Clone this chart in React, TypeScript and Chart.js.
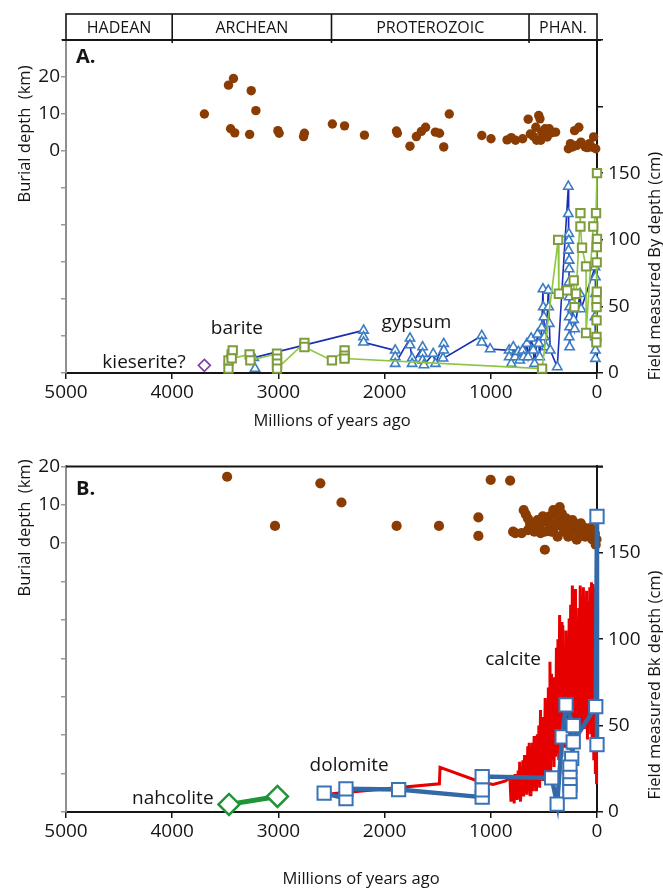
import React, { useEffect, useRef } from "react";
import { Chart, registerables } from "chart.js";
Chart.register(...registerables);

const FONT = "'Open Sans', 'DejaVu Sans', sans-serif";
const INK = "#151515";

// ---------- eon banner ----------
const eonNames = ["HADEAN", "ARCHEAN", "PROTEROZOIC", "PHAN."];
const eonStart = [5000, 4000, 2500, 640];
const eonEnd = [4000, 2500, 640, 0];

// ---------- axes ----------
const xMin = 0;
const xMax = 5000;
const xStep = 1000;
const burialMinA = -60;
const burialMaxA = 30;
const fieldMaxA = 250;
const burialMinB = -70;
const burialMaxB = 20;
const fieldMaxB = 200;
const burialLabelled = [0, 10, 20];
const fieldLabelMax = 150;

// ---------- panel A data (Ma, km / cm) ----------
const burialAAge = [3697, 3470, 3423, 3256, 3212, 3450, 3411, 3271, 3005, 2993, 2755, 2763, 2492, 2377, 2190, 1888, 1880, 1761, 1701, 1654, 1614, 1522, 1483, 1443, 1391, 1085, 998, 847, 807, 767, 700, 648, 628, 576, 549, 537, 568, 529, 509, 489, 449, 469, 390, 270, 250, 211, 171, 151, 111, 72, 32, 12, 52, 231, 600, 520, 480, 430, 190, 90];
const burialAKm = [10.0, 17.8, 19.6, 16.3, 10.9, 6.0, 4.9, 4.5, 5.5, 4.8, 4.8, 3.9, 7.3, 6.8, 4.3, 5.4, 4.8, 1.3, 3.9, 5.3, 6.4, 5.1, 4.8, 1.1, 10.0, 4.2, 3.3, 3.0, 3.6, 2.9, 3.3, 8.6, 4.6, 6.4, 9.6, 8.7, 2.9, 2.9, 4.6, 6.0, 6.0, 3.8, 5.1, 0.6, 2.0, 5.5, 6.4, 2.4, 1.1, 2.0, 3.8, 0.6, 1.1, 1.1, 4.0, 5.0, 4.6, 4.9, 1.5, 0.9];

const gypsumAge = [3220, 3232, 2198, 2198, 2198, 1900, 1900, 1900, 1761, 1761, 1741, 1741, 1642, 1642, 1642, 1630, 1542, 1522, 1443, 1443, 1450, 1085, 1085, 1006, 827, 827, 807, 788, 770, 740, 727, 700, 690, 660, 648, 620, 600, 588, 560, 548, 540, 520, 509, 506, 500, 495, 480, 459, 455, 449, 440, 374, 270, 270, 265, 265, 268, 262, 262, 265, 262, 258, 262, 258, 262, 258, 230, 220, 210, 160, 150, 19, 15, 15, 19, 15, 15, 15];
const gypsumCm = [3.3, 11.5, 32, 27, 23, 17, 12, 7, 26, 21, 11, 7, 19.5, 14.5, 9.5, 6, 14.5, 7, 22, 17, 11, 28, 23, 18, 17, 12, 7, 19.5, 12, 16, 9.5, 17, 12, 22, 12, 26, 17, 7, 29, 22, 12, 34, 63, 49.5, 42, 27, 19.5, 62, 49.5, 37, 17, 4.5, 140, 119.5, 104.5, 99.5, 92, 84.5, 78, 68, 57, 49.5, 42, 34.5, 27, 19.5, 48, 40, 33, 59.5, 48, 79.5, 72, 59.5, 42, 27, 17, 10.75];

const bariteAge = [3470, 3470, 3440, 3430, 3440, 3271, 3264, 3013, 3013, 3013, 3013, 2755, 2755, 2496, 2377, 2377, 2377, 517, 366, 359, 281, 219, 212, 197, 156, 156, 141, 103, 103, 35, 9, 0, 0, 2, 3, 2, 4, 4, 4, 5, 6];
const bariteCm = [3.3, 9.5, 14, 17, 11, 14, 9.5, 14.5, 10.8, 7, 3.3, 22.5, 19.5, 9.5, 17, 13, 10.8, 3.3, 100, 59.5, 62, 69.5, 49.5, 59.5, 120, 110, 94, 80, 30, 110, 120, 150, 100.7, 94.5, 83, 61, 54.5, 49.5, 39.5, 27, 23];

const kieseriteAge = [3697];
const kieseriteCm = [5.75];

// ---------- panel B data ----------
const burialBAge = [3483, 3032, 2605, 2406, 1887, 1488, 1117, 1117, 1001, 818, 790, 770, 710, 690, 670, 650, 650, 630, 610, 590, 571, 560, 545, 531, 531, 510, 491, 491, 470, 451, 451, 430, 411, 411, 390, 371, 371, 351, 340, 331, 331, 310, 291, 291, 271, 260, 245, 231, 211, 200, 191, 175, 152, 140, 130, 112, 112, 95, 72, 60, 45, 32, 20, 12, 5];
const burialBKm = [17.3, 4.5, 15.6, 10.6, 4.5, 4.5, 6.7, 1.9, 16.5, 16.3, 3.0, 2.6, 2.6, 8.6, 7.5, 6.4, 3.4, 5.0, 4.3, 3.0, 3.4, 6.0, 5.0, 2.6, 5.2, 7.0, -1.7, 3.0, 5.5, 6.9, 5.2, 3.0, 8.6, 3.0, 5.0, 6.9, 1.7, 9.4, 4.5, 7.7, 5.2, 3.0, 3.9, 6.5, 1.7, 5.0, 3.0, 6.0, 3.4, 5.0, 0.9, 3.0, 5.2, 2.0, 4.0, 3.9, 1.7, 2.5, 2.1, 4.0, 1.0, 0.9, 2.5, -0.4, 1.0];

const calciteAge = [2496, 1484, 1478, 1104, 978, 860, 820, 810, 800, 795, 788, 780, 772, 765, 758, 750, 742, 735, 728, 720, 712, 705, 698, 690, 682, 675, 668, 660, 652, 645, 638, 630, 622, 615, 608, 600, 592, 585, 578, 570, 562, 555, 548, 540, 532, 525, 518, 510, 502, 495, 488, 480, 472, 465, 458, 450, 443, 436, 428, 420, 412, 405, 398, 390, 382, 375, 368, 360, 352, 345, 338, 330, 322, 315, 308, 300, 292, 285, 278, 270, 262, 255, 248, 240, 232, 225, 218, 210, 203, 196, 188, 180, 172, 165, 158, 150, 142, 135, 128, 120, 112, 105, 98, 90, 82, 75, 68, 60, 52, 45, 38, 30, 22, 15, 8, 4];
const calciteCm = [10.5, 16.3, 25.8, 17.5, 16, 18, 20, 6, 21, 8, 19, 5, 22, 9, 20, 7, 24, 8, 29, 6, 26, 10, 30, 9, 33, 11, 28, 10, 38, 12, 40, 10, 36, 13, 40, 12, 44, 15, 38, 12, 45, 18, 50, 14, 59, 20, 55, 18, 52, 22, 66, 25, 60, 20, 72, 28, 87, 22, 80, 30, 78, 26, 70, 32, 95, 35, 100, 30, 114, 40, 110, 32, 108, 45, 96, 38, 105, 42, 90, 36, 112, 48, 120, 42, 131, 50, 128, 44, 129, 55, 110, 46, 118, 58, 131, 50, 125, 60, 130, 48, 118, 55, 128, 42, 122, 52, 130, 45, 133, 38, 132, 30, 130, 22, 128, 16];

const dolomiteAge = [2569, 2364, 2364, 1868, 1081, 1081, 1081, 427, 375, 328, 292, 224, 238, 255, 255, 255, 255, 224, 12, 0, 0];
const dolomiteCm = [10.9, 7.7, 13.4, 13.0, 8.6, 12.8, 20.5, 19.7, 4.6, 43.5, 62.0, 50.0, 31.0, 26.0, 20.0, 15.7, 11.8, 40.6, 61.0, 171.0, 39.0];

const nahcoliteAge = [3465, 3009];
const nahcoliteCm = [4.4, 9.0];

// ---------- helpers ----------
const pts = (xs: number[], ys: number[]) => xs.map((x, i) => ({ x, y: ys[i] }));

type Note = { text: string; x: number; y: number };
type PanelSpec = {
  height: number;
  padTop: number;
  areaHeight: number;
  burialMin: number;
  burialMax: number;
  fieldMax: number;
  datasets: any[];
  banner: boolean;
  topLine: boolean;
  label: string;
  labelY: number;
  notes: Note[];
  leftTitle: string;
  leftTitleY: number;
  rightTitle: string;
  rightTitleY: number;
  xTitleX: number;
  xTitleY: number;
};

function overlayPlugin(spec: PanelSpec) {
  return {
    id: "overlay",
    afterDraw(chart: any) {
      const ctx = chart.ctx as CanvasRenderingContext2D;
      const { left, right, top } = chart.chartArea;
      const xs = chart.scales.x;
      const yR = chart.scales.yR;
      ctx.save();
      ctx.fillStyle = INK;
      ctx.strokeStyle = INK;
      if (spec.banner) {
        const bTop = 14;
        const bBot = top;
        ctx.lineWidth = 1.6;
        ctx.strokeRect(left, bTop, right - left, bBot - bTop);
        ctx.lineWidth = 2;
        ctx.beginPath();
        ctx.moveTo(left - 4, bBot);
        ctx.lineTo(right + 4, bBot);
        ctx.stroke();
        ctx.font = `16px ${FONT}`;
        ctx.textAlign = "center";
        ctx.textBaseline = "middle";
        eonNames.forEach((name, i) => {
          const x0 = xs.getPixelForValue(eonStart[i]);
          const x1 = xs.getPixelForValue(eonEnd[i]);
          if (i > 0) {
            ctx.lineWidth = 1.6;
            ctx.beginPath();
            ctx.moveTo(x0, bTop);
            ctx.lineTo(x0, bBot + 3);
            ctx.stroke();
          }
          ctx.fillText(name, (x0 + x1) / 2, (bTop + bBot) / 2 + 1);
        });
      }
      if (spec.topLine) {
        ctx.lineWidth = 2;
        ctx.beginPath();
        ctx.moveTo(left, top);
        ctx.lineTo(right + 6, top);
        ctx.stroke();
      }
      // panel label
      ctx.font = `bold 20px ${FONT}`;
      ctx.textAlign = "left";
      ctx.textBaseline = "alphabetic";
      ctx.fillText(spec.label, left + 10, spec.labelY);
      // annotations
      ctx.font = `19px ${FONT}`;
      ctx.textAlign = "center";
      ctx.textBaseline = "middle";
      spec.notes.forEach((n) => {
        ctx.fillText(n.text, xs.getPixelForValue(n.x), yR.getPixelForValue(n.y));
      });
      // axis titles
      ctx.font = `16.5px ${FONT}`;
      ctx.fillText("Millions of years ago", spec.xTitleX, spec.xTitleY);
      ctx.save();
      ctx.translate(25, spec.leftTitleY);
      ctx.rotate(-Math.PI / 2);
      ctx.fillText(spec.leftTitle, 0, 0);
      ctx.restore();
      ctx.save();
      ctx.translate(655, spec.rightTitleY);
      ctx.rotate(-Math.PI / 2);
      ctx.fillText(spec.rightTitle, 0, 0);
      ctx.restore();
      ctx.restore();
    },
  };
}

function Panel({ spec }: { spec: PanelSpec }) {
  const ref = useRef<HTMLCanvasElement | null>(null);
  useEffect(() => {
    if (!ref.current) return;
    const xHeight = spec.height - spec.padTop - spec.areaHeight;
    const chart = new Chart(ref.current, {
      type: "scatter",
      data: { datasets: spec.datasets },
      options: {
        animation: false,
        responsive: false,
        devicePixelRatio: 1,
        events: [],
        layout: { padding: { top: spec.padTop, left: 0, right: 0, bottom: 0 } },
        plugins: { legend: { display: false }, tooltip: { enabled: false } },
        scales: {
          x: {
            type: "linear",
            min: xMin,
            max: xMax,
            reverse: true,
            afterFit: (s: any) => {
              s.height = xHeight;
            },
            ticks: {
              stepSize: xStep,
              autoSkip: false,
              maxRotation: 0,
              padding: 2,
              color: INK,
              font: { family: FONT, size: 19 },
              callback: (v: any) => String(v),
            },
            grid: { drawOnChartArea: false, drawTicks: true, tickLength: 6, color: INK, lineWidth: 1.5 },
            border: { display: true, color: INK, width: 2 },
          },
          yL: {
            type: "linear",
            position: "left",
            min: spec.burialMin,
            max: spec.burialMax,
            afterFit: (s: any) => {
              s.width = 66;
            },
            ticks: {
              stepSize: 10,
              autoSkip: false,
              padding: 1,
              color: INK,
              font: { family: FONT, size: 19 },
              callback: (v: any) => (burialLabelled.includes(v) ? String(v) : ""),
            },
            grid: { drawOnChartArea: false, drawTicks: true, tickLength: 5, color: "#9a9a9a", lineWidth: 1.5 },
            border: { display: true, color: "#8f8f8f", width: 2 },
          },
          yR: {
            type: "linear",
            position: "right",
            min: 0,
            max: spec.fieldMax,
            afterFit: (s: any) => {
              s.width = 66;
            },
            ticks: {
              stepSize: 50,
              autoSkip: false,
              padding: 5,
              color: INK,
              font: { family: FONT, size: 19 },
              callback: (v: any) => (v <= fieldLabelMax ? String(v) : ""),
            },
            grid: { drawOnChartArea: false, drawTicks: true, tickLength: 6, color: INK, lineWidth: 1.5 },
            border: { display: true, color: INK, width: 2 },
          },
        },
      } as any,
      plugins: [overlayPlugin(spec)],
    });
    return () => chart.destroy();
  }, [spec]);
  return (
    <canvas
      ref={ref}
      width={663}
      height={spec.height}
      style={{ display: "block", width: 663, height: spec.height }}
    />
  );
}

const brown = "#8b3c02";

const specA: PanelSpec = {
  height: 450,
  padTop: 40,
  areaHeight: 333,
  burialMin: burialMinA,
  burialMax: burialMaxA,
  fieldMax: fieldMaxA,
  banner: true,
  topLine: false,
  label: "A.",
  labelY: 63,
  notes: [
    { text: "barite", x: 3391, y: 33.5 },
    { text: "gypsum", x: 1701, y: 37.5 },
    { text: "kieserite?", x: 4265, y: 7.8 },
  ],
  leftTitle: "Burial depth  (km)",
  leftTitleY: 134,
  rightTitle: "Field measured By depth (cm)",
  rightTitleY: 266,
  xTitleX: 332,
  xTitleY: 421,
  datasets: [
    {
      label: "barite",
      data: pts(bariteAge, bariteCm),
      yAxisID: "yR",
      showLine: true,
      borderColor: "#8cc63f",
      borderWidth: 1.6,
      pointStyle: "rect",
      pointRadius: 5.9,
      pointBorderWidth: 2,
      pointBorderColor: "#7e9c3c",
      pointBackgroundColor: "#ffffff",
      clip: false,
    },
    {
      label: "kieserite",
      data: pts(kieseriteAge, kieseriteCm),
      yAxisID: "yR",
      showLine: false,
      pointStyle: "rectRot",
      pointRadius: 6,
      pointBorderWidth: 1.6,
      pointBorderColor: "#7b3ea3",
      pointBackgroundColor: "#ffffff",
      clip: false,
    },
    {
      label: "gypsum",
      data: pts(gypsumAge, gypsumCm),
      yAxisID: "yR",
      showLine: true,
      borderColor: "#1a2db4",
      borderWidth: 1.6,
      pointStyle: "triangle",
      pointRadius: 5.4,
      pointBorderWidth: 1.6,
      pointBorderColor: "#3b7cc2",
      pointBackgroundColor: "#ffffff",
      clip: false,
    },
    {
      label: "burial",
      data: pts(burialAAge, burialAKm),
      yAxisID: "yL",
      showLine: false,
      pointStyle: "circle",
      pointRadius: 4.7,
      pointBorderWidth: 0,
      pointBackgroundColor: brown,
      pointBorderColor: brown,
      clip: false,
    },
  ],
};

const specB: PanelSpec = {
  height: 440,
  padTop: 12,
  areaHeight: 350,
  burialMin: burialMinB,
  burialMax: burialMaxB,
  fieldMax: fieldMaxB,
  banner: false,
  topLine: true,
  label: "B.",
  labelY: 45,
  notes: [
    { text: "calcite", x: 790, y: 88 },
    { text: "dolomite", x: 2334, y: 27 },
    { text: "nahcolite", x: 3994, y: 7.7 },
  ],
  leftTitle: "Burial depth  (km)",
  leftTitleY: 78,
  rightTitle: "Field measured Bk depth (cm)",
  rightTitleY: 235,
  xTitleX: 361,
  xTitleY: 429,
  datasets: [
    {
      label: "dolomite",
      data: pts(dolomiteAge, dolomiteCm),
      yAxisID: "yR",
      showLine: true,
      borderColor: "#3469a9",
      borderWidth: 4.5,
      pointStyle: "rect",
      pointRadius: 9.4,
      pointBorderWidth: 2,
      pointBorderColor: "#3a72b6",
      pointBackgroundColor: "#ffffff",
      clip: false,
    },
    {
      label: "nahcolite",
      data: pts(nahcoliteAge, nahcoliteCm),
      yAxisID: "yR",
      showLine: true,
      borderColor: "#1e9638",
      borderWidth: 5,
      pointStyle: "rectRot",
      pointRadius: 10.5,
      pointBorderWidth: 2.5,
      pointBorderColor: "#1e9638",
      pointBackgroundColor: "#ffffff",
      clip: false,
    },
    {
      label: "calcite",
      data: pts(calciteAge, calciteCm),
      yAxisID: "yR",
      showLine: true,
      borderColor: "#e60000",
      borderWidth: 3,
      pointRadius: 0,
      clip: false,
    },
    {
      label: "burial",
      data: pts(burialBAge, burialBKm),
      yAxisID: "yL",
      showLine: false,
      pointStyle: "circle",
      pointRadius: 5.1,
      pointBorderWidth: 0,
      pointBackgroundColor: brown,
      pointBorderColor: brown,
      clip: false,
    },
  ],
};

export default function App() {
  return (
    <div style={{ position: "absolute", left: 0, top: 0, width: 663, height: 890, background: "#fff" }}>
      <Panel spec={specA} />
      <Panel spec={specB} />
    </div>
  );
}
